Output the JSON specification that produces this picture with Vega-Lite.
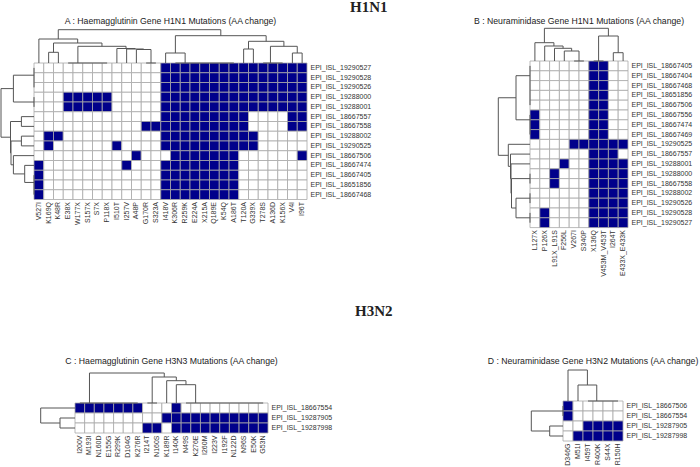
{
"$schema": "https://vega.github.io/schema/vega-lite/v6.json",
"padding": 0,
"config": {"view": {"stroke": null}, "axis": {"labelFont": "Liberation Sans"}, "title": {"font": "Liberation Sans"}},
"datasets": {
"A_cells": [
{"s":"EPI_ISL_19290527","m":"V527I","v":0},{"s":"EPI_ISL_19290527","m":"K169Q","v":0},{"s":"EPI_ISL_19290527","m":"K48R","v":0},{"s":"EPI_ISL_19290527","m":"E38X","v":0},{"s":"EPI_ISL_19290527","m":"W177X","v":0},{"s":"EPI_ISL_19290527","m":"S157X","v":0},{"s":"EPI_ISL_19290527","m":"S7X","v":0},{"s":"EPI_ISL_19290527","m":"P118X","v":0},{"s":"EPI_ISL_19290527","m":"I510T","v":0},{"s":"EPI_ISL_19290527","m":"I257V","v":0},{"s":"EPI_ISL_19290527","m":"A48P","v":0},{"s":"EPI_ISL_19290527","m":"G170R","v":0},{"s":"EPI_ISL_19290527","m":"S323A","v":0},{"s":"EPI_ISL_19290527","m":"I418V","v":1},{"s":"EPI_ISL_19290527","m":"K306R","v":1},{"s":"EPI_ISL_19290527","m":"R259K","v":1},{"s":"EPI_ISL_19290527","m":"E224A","v":1},{"s":"EPI_ISL_19290527","m":"X215A","v":1},{"s":"EPI_ISL_19290527","m":"Q189E","v":1},{"s":"EPI_ISL_19290527","m":"K54Q","v":1},{"s":"EPI_ISL_19290527","m":"A186T","v":1},{"s":"EPI_ISL_19290527","m":"T120A","v":1},{"s":"EPI_ISL_19290527","m":"G339X","v":1},{"s":"EPI_ISL_19290527","m":"T278S","v":1},{"s":"EPI_ISL_19290527","m":"A136D","v":1},{"s":"EPI_ISL_19290527","m":"K156X","v":1},{"s":"EPI_ISL_19290527","m":"V4I","v":1},{"s":"EPI_ISL_19290527","m":"I96T","v":1},
{"s":"EPI_ISL_19290528","m":"V527I","v":0},{"s":"EPI_ISL_19290528","m":"K169Q","v":0},{"s":"EPI_ISL_19290528","m":"K48R","v":0},{"s":"EPI_ISL_19290528","m":"E38X","v":0},{"s":"EPI_ISL_19290528","m":"W177X","v":0},{"s":"EPI_ISL_19290528","m":"S157X","v":0},{"s":"EPI_ISL_19290528","m":"S7X","v":0},{"s":"EPI_ISL_19290528","m":"P118X","v":0},{"s":"EPI_ISL_19290528","m":"I510T","v":0},{"s":"EPI_ISL_19290528","m":"I257V","v":0},{"s":"EPI_ISL_19290528","m":"A48P","v":0},{"s":"EPI_ISL_19290528","m":"G170R","v":0},{"s":"EPI_ISL_19290528","m":"S323A","v":0},{"s":"EPI_ISL_19290528","m":"I418V","v":1},{"s":"EPI_ISL_19290528","m":"K306R","v":1},{"s":"EPI_ISL_19290528","m":"R259K","v":1},{"s":"EPI_ISL_19290528","m":"E224A","v":1},{"s":"EPI_ISL_19290528","m":"X215A","v":1},{"s":"EPI_ISL_19290528","m":"Q189E","v":1},{"s":"EPI_ISL_19290528","m":"K54Q","v":1},{"s":"EPI_ISL_19290528","m":"A186T","v":1},{"s":"EPI_ISL_19290528","m":"T120A","v":1},{"s":"EPI_ISL_19290528","m":"G339X","v":1},{"s":"EPI_ISL_19290528","m":"T278S","v":1},{"s":"EPI_ISL_19290528","m":"A136D","v":1},{"s":"EPI_ISL_19290528","m":"K156X","v":1},{"s":"EPI_ISL_19290528","m":"V4I","v":1},{"s":"EPI_ISL_19290528","m":"I96T","v":1},
{"s":"EPI_ISL_19290526","m":"V527I","v":0},{"s":"EPI_ISL_19290526","m":"K169Q","v":0},{"s":"EPI_ISL_19290526","m":"K48R","v":0},{"s":"EPI_ISL_19290526","m":"E38X","v":0},{"s":"EPI_ISL_19290526","m":"W177X","v":0},{"s":"EPI_ISL_19290526","m":"S157X","v":0},{"s":"EPI_ISL_19290526","m":"S7X","v":0},{"s":"EPI_ISL_19290526","m":"P118X","v":0},{"s":"EPI_ISL_19290526","m":"I510T","v":0},{"s":"EPI_ISL_19290526","m":"I257V","v":0},{"s":"EPI_ISL_19290526","m":"A48P","v":0},{"s":"EPI_ISL_19290526","m":"G170R","v":0},{"s":"EPI_ISL_19290526","m":"S323A","v":0},{"s":"EPI_ISL_19290526","m":"I418V","v":1},{"s":"EPI_ISL_19290526","m":"K306R","v":1},{"s":"EPI_ISL_19290526","m":"R259K","v":1},{"s":"EPI_ISL_19290526","m":"E224A","v":1},{"s":"EPI_ISL_19290526","m":"X215A","v":1},{"s":"EPI_ISL_19290526","m":"Q189E","v":1},{"s":"EPI_ISL_19290526","m":"K54Q","v":1},{"s":"EPI_ISL_19290526","m":"A186T","v":1},{"s":"EPI_ISL_19290526","m":"T120A","v":1},{"s":"EPI_ISL_19290526","m":"G339X","v":1},{"s":"EPI_ISL_19290526","m":"T278S","v":1},{"s":"EPI_ISL_19290526","m":"A136D","v":1},{"s":"EPI_ISL_19290526","m":"K156X","v":1},{"s":"EPI_ISL_19290526","m":"V4I","v":1},{"s":"EPI_ISL_19290526","m":"I96T","v":1},
{"s":"EPI_ISL_19288000","m":"V527I","v":0},{"s":"EPI_ISL_19288000","m":"K169Q","v":0},{"s":"EPI_ISL_19288000","m":"K48R","v":0},{"s":"EPI_ISL_19288000","m":"E38X","v":1},{"s":"EPI_ISL_19288000","m":"W177X","v":1},{"s":"EPI_ISL_19288000","m":"S157X","v":1},{"s":"EPI_ISL_19288000","m":"S7X","v":1},{"s":"EPI_ISL_19288000","m":"P118X","v":1},{"s":"EPI_ISL_19288000","m":"I510T","v":0},{"s":"EPI_ISL_19288000","m":"I257V","v":0},{"s":"EPI_ISL_19288000","m":"A48P","v":0},{"s":"EPI_ISL_19288000","m":"G170R","v":0},{"s":"EPI_ISL_19288000","m":"S323A","v":0},{"s":"EPI_ISL_19288000","m":"I418V","v":1},{"s":"EPI_ISL_19288000","m":"K306R","v":1},{"s":"EPI_ISL_19288000","m":"R259K","v":1},{"s":"EPI_ISL_19288000","m":"E224A","v":1},{"s":"EPI_ISL_19288000","m":"X215A","v":1},{"s":"EPI_ISL_19288000","m":"Q189E","v":1},{"s":"EPI_ISL_19288000","m":"K54Q","v":1},{"s":"EPI_ISL_19288000","m":"A186T","v":1},{"s":"EPI_ISL_19288000","m":"T120A","v":1},{"s":"EPI_ISL_19288000","m":"G339X","v":1},{"s":"EPI_ISL_19288000","m":"T278S","v":1},{"s":"EPI_ISL_19288000","m":"A136D","v":1},{"s":"EPI_ISL_19288000","m":"K156X","v":1},{"s":"EPI_ISL_19288000","m":"V4I","v":1},{"s":"EPI_ISL_19288000","m":"I96T","v":1},
{"s":"EPI_ISL_19288001","m":"V527I","v":0},{"s":"EPI_ISL_19288001","m":"K169Q","v":0},{"s":"EPI_ISL_19288001","m":"K48R","v":0},{"s":"EPI_ISL_19288001","m":"E38X","v":1},{"s":"EPI_ISL_19288001","m":"W177X","v":1},{"s":"EPI_ISL_19288001","m":"S157X","v":1},{"s":"EPI_ISL_19288001","m":"S7X","v":1},{"s":"EPI_ISL_19288001","m":"P118X","v":1},{"s":"EPI_ISL_19288001","m":"I510T","v":0},{"s":"EPI_ISL_19288001","m":"I257V","v":0},{"s":"EPI_ISL_19288001","m":"A48P","v":0},{"s":"EPI_ISL_19288001","m":"G170R","v":0},{"s":"EPI_ISL_19288001","m":"S323A","v":0},{"s":"EPI_ISL_19288001","m":"I418V","v":1},{"s":"EPI_ISL_19288001","m":"K306R","v":1},{"s":"EPI_ISL_19288001","m":"R259K","v":1},{"s":"EPI_ISL_19288001","m":"E224A","v":1},{"s":"EPI_ISL_19288001","m":"X215A","v":1},{"s":"EPI_ISL_19288001","m":"Q189E","v":1},{"s":"EPI_ISL_19288001","m":"K54Q","v":1},{"s":"EPI_ISL_19288001","m":"A186T","v":1},{"s":"EPI_ISL_19288001","m":"T120A","v":1},{"s":"EPI_ISL_19288001","m":"G339X","v":1},{"s":"EPI_ISL_19288001","m":"T278S","v":1},{"s":"EPI_ISL_19288001","m":"A136D","v":1},{"s":"EPI_ISL_19288001","m":"K156X","v":1},{"s":"EPI_ISL_19288001","m":"V4I","v":1},{"s":"EPI_ISL_19288001","m":"I96T","v":1},
{"s":"EPI_ISL_18667557","m":"V527I","v":0},{"s":"EPI_ISL_18667557","m":"K169Q","v":0},{"s":"EPI_ISL_18667557","m":"K48R","v":0},{"s":"EPI_ISL_18667557","m":"E38X","v":0},{"s":"EPI_ISL_18667557","m":"W177X","v":0},{"s":"EPI_ISL_18667557","m":"S157X","v":0},{"s":"EPI_ISL_18667557","m":"S7X","v":0},{"s":"EPI_ISL_18667557","m":"P118X","v":0},{"s":"EPI_ISL_18667557","m":"I510T","v":0},{"s":"EPI_ISL_18667557","m":"I257V","v":0},{"s":"EPI_ISL_18667557","m":"A48P","v":0},{"s":"EPI_ISL_18667557","m":"G170R","v":0},{"s":"EPI_ISL_18667557","m":"S323A","v":0},{"s":"EPI_ISL_18667557","m":"I418V","v":1},{"s":"EPI_ISL_18667557","m":"K306R","v":1},{"s":"EPI_ISL_18667557","m":"R259K","v":1},{"s":"EPI_ISL_18667557","m":"E224A","v":1},{"s":"EPI_ISL_18667557","m":"X215A","v":1},{"s":"EPI_ISL_18667557","m":"Q189E","v":1},{"s":"EPI_ISL_18667557","m":"K54Q","v":1},{"s":"EPI_ISL_18667557","m":"A186T","v":1},{"s":"EPI_ISL_18667557","m":"T120A","v":1},{"s":"EPI_ISL_18667557","m":"G339X","v":0},{"s":"EPI_ISL_18667557","m":"T278S","v":0},{"s":"EPI_ISL_18667557","m":"A136D","v":0},{"s":"EPI_ISL_18667557","m":"K156X","v":0},{"s":"EPI_ISL_18667557","m":"V4I","v":1},{"s":"EPI_ISL_18667557","m":"I96T","v":1},
{"s":"EPI_ISL_18667558","m":"V527I","v":0},{"s":"EPI_ISL_18667558","m":"K169Q","v":0},{"s":"EPI_ISL_18667558","m":"K48R","v":0},{"s":"EPI_ISL_18667558","m":"E38X","v":0},{"s":"EPI_ISL_18667558","m":"W177X","v":0},{"s":"EPI_ISL_18667558","m":"S157X","v":0},{"s":"EPI_ISL_18667558","m":"S7X","v":0},{"s":"EPI_ISL_18667558","m":"P118X","v":0},{"s":"EPI_ISL_18667558","m":"I510T","v":0},{"s":"EPI_ISL_18667558","m":"I257V","v":0},{"s":"EPI_ISL_18667558","m":"A48P","v":0},{"s":"EPI_ISL_18667558","m":"G170R","v":1},{"s":"EPI_ISL_18667558","m":"S323A","v":1},{"s":"EPI_ISL_18667558","m":"I418V","v":1},{"s":"EPI_ISL_18667558","m":"K306R","v":1},{"s":"EPI_ISL_18667558","m":"R259K","v":1},{"s":"EPI_ISL_18667558","m":"E224A","v":1},{"s":"EPI_ISL_18667558","m":"X215A","v":1},{"s":"EPI_ISL_18667558","m":"Q189E","v":1},{"s":"EPI_ISL_18667558","m":"K54Q","v":1},{"s":"EPI_ISL_18667558","m":"A186T","v":1},{"s":"EPI_ISL_18667558","m":"T120A","v":1},{"s":"EPI_ISL_18667558","m":"G339X","v":0},{"s":"EPI_ISL_18667558","m":"T278S","v":0},{"s":"EPI_ISL_18667558","m":"A136D","v":0},{"s":"EPI_ISL_18667558","m":"K156X","v":0},{"s":"EPI_ISL_18667558","m":"V4I","v":1},{"s":"EPI_ISL_18667558","m":"I96T","v":1},
{"s":"EPI_ISL_19288002","m":"V527I","v":0},{"s":"EPI_ISL_19288002","m":"K169Q","v":1},{"s":"EPI_ISL_19288002","m":"K48R","v":1},{"s":"EPI_ISL_19288002","m":"E38X","v":0},{"s":"EPI_ISL_19288002","m":"W177X","v":0},{"s":"EPI_ISL_19288002","m":"S157X","v":0},{"s":"EPI_ISL_19288002","m":"S7X","v":0},{"s":"EPI_ISL_19288002","m":"P118X","v":0},{"s":"EPI_ISL_19288002","m":"I510T","v":0},{"s":"EPI_ISL_19288002","m":"I257V","v":0},{"s":"EPI_ISL_19288002","m":"A48P","v":0},{"s":"EPI_ISL_19288002","m":"G170R","v":0},{"s":"EPI_ISL_19288002","m":"S323A","v":0},{"s":"EPI_ISL_19288002","m":"I418V","v":1},{"s":"EPI_ISL_19288002","m":"K306R","v":1},{"s":"EPI_ISL_19288002","m":"R259K","v":1},{"s":"EPI_ISL_19288002","m":"E224A","v":1},{"s":"EPI_ISL_19288002","m":"X215A","v":1},{"s":"EPI_ISL_19288002","m":"Q189E","v":1},{"s":"EPI_ISL_19288002","m":"K54Q","v":1},{"s":"EPI_ISL_19288002","m":"A186T","v":1},{"s":"EPI_ISL_19288002","m":"T120A","v":1},{"s":"EPI_ISL_19288002","m":"G339X","v":1},{"s":"EPI_ISL_19288002","m":"T278S","v":0},{"s":"EPI_ISL_19288002","m":"A136D","v":0},{"s":"EPI_ISL_19288002","m":"K156X","v":0},{"s":"EPI_ISL_19288002","m":"V4I","v":0},{"s":"EPI_ISL_19288002","m":"I96T","v":0},
{"s":"EPI_ISL_19290525","m":"V527I","v":0},{"s":"EPI_ISL_19290525","m":"K169Q","v":1},{"s":"EPI_ISL_19290525","m":"K48R","v":0},{"s":"EPI_ISL_19290525","m":"E38X","v":0},{"s":"EPI_ISL_19290525","m":"W177X","v":0},{"s":"EPI_ISL_19290525","m":"S157X","v":0},{"s":"EPI_ISL_19290525","m":"S7X","v":0},{"s":"EPI_ISL_19290525","m":"P118X","v":0},{"s":"EPI_ISL_19290525","m":"I510T","v":1},{"s":"EPI_ISL_19290525","m":"I257V","v":0},{"s":"EPI_ISL_19290525","m":"A48P","v":0},{"s":"EPI_ISL_19290525","m":"G170R","v":0},{"s":"EPI_ISL_19290525","m":"S323A","v":0},{"s":"EPI_ISL_19290525","m":"I418V","v":1},{"s":"EPI_ISL_19290525","m":"K306R","v":1},{"s":"EPI_ISL_19290525","m":"R259K","v":1},{"s":"EPI_ISL_19290525","m":"E224A","v":1},{"s":"EPI_ISL_19290525","m":"X215A","v":1},{"s":"EPI_ISL_19290525","m":"Q189E","v":1},{"s":"EPI_ISL_19290525","m":"K54Q","v":1},{"s":"EPI_ISL_19290525","m":"A186T","v":1},{"s":"EPI_ISL_19290525","m":"T120A","v":1},{"s":"EPI_ISL_19290525","m":"G339X","v":1},{"s":"EPI_ISL_19290525","m":"T278S","v":0},{"s":"EPI_ISL_19290525","m":"A136D","v":0},{"s":"EPI_ISL_19290525","m":"K156X","v":0},{"s":"EPI_ISL_19290525","m":"V4I","v":0},{"s":"EPI_ISL_19290525","m":"I96T","v":0},
{"s":"EPI_ISL_18667506","m":"V527I","v":0},{"s":"EPI_ISL_18667506","m":"K169Q","v":0},{"s":"EPI_ISL_18667506","m":"K48R","v":0},{"s":"EPI_ISL_18667506","m":"E38X","v":0},{"s":"EPI_ISL_18667506","m":"W177X","v":0},{"s":"EPI_ISL_18667506","m":"S157X","v":0},{"s":"EPI_ISL_18667506","m":"S7X","v":0},{"s":"EPI_ISL_18667506","m":"P118X","v":0},{"s":"EPI_ISL_18667506","m":"I510T","v":0},{"s":"EPI_ISL_18667506","m":"I257V","v":0},{"s":"EPI_ISL_18667506","m":"A48P","v":1},{"s":"EPI_ISL_18667506","m":"G170R","v":0},{"s":"EPI_ISL_18667506","m":"S323A","v":0},{"s":"EPI_ISL_18667506","m":"I418V","v":0},{"s":"EPI_ISL_18667506","m":"K306R","v":1},{"s":"EPI_ISL_18667506","m":"R259K","v":1},{"s":"EPI_ISL_18667506","m":"E224A","v":1},{"s":"EPI_ISL_18667506","m":"X215A","v":1},{"s":"EPI_ISL_18667506","m":"Q189E","v":1},{"s":"EPI_ISL_18667506","m":"K54Q","v":1},{"s":"EPI_ISL_18667506","m":"A186T","v":1},{"s":"EPI_ISL_18667506","m":"T120A","v":0},{"s":"EPI_ISL_18667506","m":"G339X","v":0},{"s":"EPI_ISL_18667506","m":"T278S","v":0},{"s":"EPI_ISL_18667506","m":"A136D","v":0},{"s":"EPI_ISL_18667506","m":"K156X","v":0},{"s":"EPI_ISL_18667506","m":"V4I","v":0},{"s":"EPI_ISL_18667506","m":"I96T","v":1},
{"s":"EPI_ISL_18667474","m":"V527I","v":1},{"s":"EPI_ISL_18667474","m":"K169Q","v":0},{"s":"EPI_ISL_18667474","m":"K48R","v":0},{"s":"EPI_ISL_18667474","m":"E38X","v":0},{"s":"EPI_ISL_18667474","m":"W177X","v":0},{"s":"EPI_ISL_18667474","m":"S157X","v":0},{"s":"EPI_ISL_18667474","m":"S7X","v":0},{"s":"EPI_ISL_18667474","m":"P118X","v":0},{"s":"EPI_ISL_18667474","m":"I510T","v":0},{"s":"EPI_ISL_18667474","m":"I257V","v":1},{"s":"EPI_ISL_18667474","m":"A48P","v":0},{"s":"EPI_ISL_18667474","m":"G170R","v":0},{"s":"EPI_ISL_18667474","m":"S323A","v":0},{"s":"EPI_ISL_18667474","m":"I418V","v":1},{"s":"EPI_ISL_18667474","m":"K306R","v":1},{"s":"EPI_ISL_18667474","m":"R259K","v":1},{"s":"EPI_ISL_18667474","m":"E224A","v":1},{"s":"EPI_ISL_18667474","m":"X215A","v":1},{"s":"EPI_ISL_18667474","m":"Q189E","v":1},{"s":"EPI_ISL_18667474","m":"K54Q","v":1},{"s":"EPI_ISL_18667474","m":"A186T","v":1},{"s":"EPI_ISL_18667474","m":"T120A","v":0},{"s":"EPI_ISL_18667474","m":"G339X","v":0},{"s":"EPI_ISL_18667474","m":"T278S","v":0},{"s":"EPI_ISL_18667474","m":"A136D","v":0},{"s":"EPI_ISL_18667474","m":"K156X","v":0},{"s":"EPI_ISL_18667474","m":"V4I","v":0},{"s":"EPI_ISL_18667474","m":"I96T","v":0},
{"s":"EPI_ISL_18667405","m":"V527I","v":1},{"s":"EPI_ISL_18667405","m":"K169Q","v":0},{"s":"EPI_ISL_18667405","m":"K48R","v":0},{"s":"EPI_ISL_18667405","m":"E38X","v":0},{"s":"EPI_ISL_18667405","m":"W177X","v":0},{"s":"EPI_ISL_18667405","m":"S157X","v":0},{"s":"EPI_ISL_18667405","m":"S7X","v":0},{"s":"EPI_ISL_18667405","m":"P118X","v":0},{"s":"EPI_ISL_18667405","m":"I510T","v":0},{"s":"EPI_ISL_18667405","m":"I257V","v":0},{"s":"EPI_ISL_18667405","m":"A48P","v":0},{"s":"EPI_ISL_18667405","m":"G170R","v":0},{"s":"EPI_ISL_18667405","m":"S323A","v":0},{"s":"EPI_ISL_18667405","m":"I418V","v":1},{"s":"EPI_ISL_18667405","m":"K306R","v":1},{"s":"EPI_ISL_18667405","m":"R259K","v":1},{"s":"EPI_ISL_18667405","m":"E224A","v":1},{"s":"EPI_ISL_18667405","m":"X215A","v":1},{"s":"EPI_ISL_18667405","m":"Q189E","v":1},{"s":"EPI_ISL_18667405","m":"K54Q","v":1},{"s":"EPI_ISL_18667405","m":"A186T","v":1},{"s":"EPI_ISL_18667405","m":"T120A","v":0},{"s":"EPI_ISL_18667405","m":"G339X","v":0},{"s":"EPI_ISL_18667405","m":"T278S","v":0},{"s":"EPI_ISL_18667405","m":"A136D","v":0},{"s":"EPI_ISL_18667405","m":"K156X","v":0},{"s":"EPI_ISL_18667405","m":"V4I","v":0},{"s":"EPI_ISL_18667405","m":"I96T","v":0},
{"s":"EPI_ISL_18651856","m":"V527I","v":1},{"s":"EPI_ISL_18651856","m":"K169Q","v":0},{"s":"EPI_ISL_18651856","m":"K48R","v":0},{"s":"EPI_ISL_18651856","m":"E38X","v":0},{"s":"EPI_ISL_18651856","m":"W177X","v":0},{"s":"EPI_ISL_18651856","m":"S157X","v":0},{"s":"EPI_ISL_18651856","m":"S7X","v":0},{"s":"EPI_ISL_18651856","m":"P118X","v":0},{"s":"EPI_ISL_18651856","m":"I510T","v":0},{"s":"EPI_ISL_18651856","m":"I257V","v":0},{"s":"EPI_ISL_18651856","m":"A48P","v":0},{"s":"EPI_ISL_18651856","m":"G170R","v":0},{"s":"EPI_ISL_18651856","m":"S323A","v":0},{"s":"EPI_ISL_18651856","m":"I418V","v":1},{"s":"EPI_ISL_18651856","m":"K306R","v":1},{"s":"EPI_ISL_18651856","m":"R259K","v":1},{"s":"EPI_ISL_18651856","m":"E224A","v":1},{"s":"EPI_ISL_18651856","m":"X215A","v":1},{"s":"EPI_ISL_18651856","m":"Q189E","v":1},{"s":"EPI_ISL_18651856","m":"K54Q","v":1},{"s":"EPI_ISL_18651856","m":"A186T","v":1},{"s":"EPI_ISL_18651856","m":"T120A","v":0},{"s":"EPI_ISL_18651856","m":"G339X","v":0},{"s":"EPI_ISL_18651856","m":"T278S","v":0},{"s":"EPI_ISL_18651856","m":"A136D","v":0},{"s":"EPI_ISL_18651856","m":"K156X","v":0},{"s":"EPI_ISL_18651856","m":"V4I","v":0},{"s":"EPI_ISL_18651856","m":"I96T","v":0},
{"s":"EPI_ISL_18667468","m":"V527I","v":1},{"s":"EPI_ISL_18667468","m":"K169Q","v":0},{"s":"EPI_ISL_18667468","m":"K48R","v":0},{"s":"EPI_ISL_18667468","m":"E38X","v":0},{"s":"EPI_ISL_18667468","m":"W177X","v":0},{"s":"EPI_ISL_18667468","m":"S157X","v":0},{"s":"EPI_ISL_18667468","m":"S7X","v":0},{"s":"EPI_ISL_18667468","m":"P118X","v":0},{"s":"EPI_ISL_18667468","m":"I510T","v":0},{"s":"EPI_ISL_18667468","m":"I257V","v":0},{"s":"EPI_ISL_18667468","m":"A48P","v":0},{"s":"EPI_ISL_18667468","m":"G170R","v":0},{"s":"EPI_ISL_18667468","m":"S323A","v":0},{"s":"EPI_ISL_18667468","m":"I418V","v":1},{"s":"EPI_ISL_18667468","m":"K306R","v":1},{"s":"EPI_ISL_18667468","m":"R259K","v":1},{"s":"EPI_ISL_18667468","m":"E224A","v":1},{"s":"EPI_ISL_18667468","m":"X215A","v":1},{"s":"EPI_ISL_18667468","m":"Q189E","v":1},{"s":"EPI_ISL_18667468","m":"K54Q","v":1},{"s":"EPI_ISL_18667468","m":"A186T","v":1},{"s":"EPI_ISL_18667468","m":"T120A","v":0},{"s":"EPI_ISL_18667468","m":"G339X","v":0},{"s":"EPI_ISL_18667468","m":"T278S","v":0},{"s":"EPI_ISL_18667468","m":"A136D","v":0},{"s":"EPI_ISL_18667468","m":"K156X","v":0},{"s":"EPI_ISL_18667468","m":"V4I","v":0},{"s":"EPI_ISL_18667468","m":"I96T","v":0}
],
"A_top": [
{"xl":4,"xr":8,"h":0,"hl":0,"hr":0},{"xl":12,"xr":13,"h":0,"hl":0,"hr":0},{"xl":11,"xr":12.5,"h":13.5,"hl":0,"hr":0},{"xl":10,"xr":11.75,"h":14,"hl":0,"hr":13.5},{"xl":9,"xr":10.875,"h":14.5,"hl":0,"hr":14},{"xl":5,"xr":9.94,"h":16.7,"hl":0,"hr":14.5},{"xl":2,"xr":3,"h":10.7,"hl":0,"hr":0},{"xl":2.5,"xr":7.47,"h":20,"hl":10.7,"hr":16.7},{"xl":1,"xr":4.98,"h":24,"hl":0,"hr":20},
{"xl":15,"xr":21,"h":0,"hl":0,"hr":0},{"xl":14,"xr":16,"h":10,"hl":0,"hr":0},{"xl":22,"xr":23,"h":14,"hl":0,"hr":0},{"xl":24,"xr":26,"h":0,"hl":0,"hr":0},{"xl":27,"xr":28,"h":10,"hl":0,"hr":0},{"xl":24.75,"xr":27.5,"h":16.7,"hl":0,"hr":10},{"xl":22.5,"xr":26.13,"h":21.7,"hl":14,"hr":16.7},{"xl":15,"xr":24.31,"h":27.3,"hl":10,"hr":21.7},{"xl":2.99,"xr":19.66,"h":33.3,"hl":24,"hr":27.3}
],
"A_left": [
{"yl":1,"yr":3,"d":0,"dl":0,"dr":0},{"yl":4,"yr":5,"d":0,"dl":0,"dr":0},{"yl":1.75,"yr":4.5,"d":20.6,"dl":0,"dr":0},{"yl":6,"yr":7,"d":12.6,"dl":0,"dr":0},{"yl":8,"yr":9,"d":12.6,"dl":0,"dr":0},{"yl":12,"yr":14,"d":0,"dl":0,"dr":0},{"yl":11,"yr":12.75,"d":9.3,"dl":0,"dr":0},{"yl":10,"yr":11.875,"d":20.6,"dl":0,"dr":9.3},{"yl":8.5,"yr":10.94,"d":23,"dl":12.6,"dr":20.6},{"yl":6.5,"yr":9.72,"d":23.5,"dl":12.6,"dr":23},{"yl":3.125,"yr":8.11,"d":33,"dl":20.6,"dr":23.5}
],
"B_cells": [
{"s":"EPI_ISL_18667405","m":"L127X","v":0},{"s":"EPI_ISL_18667405","m":"P126X","v":0},{"s":"EPI_ISL_18667405","m":"L91X_L91S","v":0},{"s":"EPI_ISL_18667405","m":"F256L","v":0},{"s":"EPI_ISL_18667405","m":"V267I","v":0},{"s":"EPI_ISL_18667405","m":"S340P","v":0},{"s":"EPI_ISL_18667405","m":"X136Q","v":1},{"s":"EPI_ISL_18667405","m":"V453M_V453T","v":1},{"s":"EPI_ISL_18667405","m":"I264T","v":0},{"s":"EPI_ISL_18667405","m":"E433X_E433K","v":0},
{"s":"EPI_ISL_18667404","m":"L127X","v":0},{"s":"EPI_ISL_18667404","m":"P126X","v":0},{"s":"EPI_ISL_18667404","m":"L91X_L91S","v":0},{"s":"EPI_ISL_18667404","m":"F256L","v":0},{"s":"EPI_ISL_18667404","m":"V267I","v":0},{"s":"EPI_ISL_18667404","m":"S340P","v":0},{"s":"EPI_ISL_18667404","m":"X136Q","v":1},{"s":"EPI_ISL_18667404","m":"V453M_V453T","v":1},{"s":"EPI_ISL_18667404","m":"I264T","v":0},{"s":"EPI_ISL_18667404","m":"E433X_E433K","v":0},
{"s":"EPI_ISL_18667468","m":"L127X","v":0},{"s":"EPI_ISL_18667468","m":"P126X","v":0},{"s":"EPI_ISL_18667468","m":"L91X_L91S","v":0},{"s":"EPI_ISL_18667468","m":"F256L","v":0},{"s":"EPI_ISL_18667468","m":"V267I","v":0},{"s":"EPI_ISL_18667468","m":"S340P","v":0},{"s":"EPI_ISL_18667468","m":"X136Q","v":1},{"s":"EPI_ISL_18667468","m":"V453M_V453T","v":1},{"s":"EPI_ISL_18667468","m":"I264T","v":0},{"s":"EPI_ISL_18667468","m":"E433X_E433K","v":0},
{"s":"EPI_ISL_18651856","m":"L127X","v":0},{"s":"EPI_ISL_18651856","m":"P126X","v":0},{"s":"EPI_ISL_18651856","m":"L91X_L91S","v":0},{"s":"EPI_ISL_18651856","m":"F256L","v":0},{"s":"EPI_ISL_18651856","m":"V267I","v":0},{"s":"EPI_ISL_18651856","m":"S340P","v":0},{"s":"EPI_ISL_18651856","m":"X136Q","v":1},{"s":"EPI_ISL_18651856","m":"V453M_V453T","v":1},{"s":"EPI_ISL_18651856","m":"I264T","v":0},{"s":"EPI_ISL_18651856","m":"E433X_E433K","v":0},
{"s":"EPI_ISL_18667506","m":"L127X","v":0},{"s":"EPI_ISL_18667506","m":"P126X","v":0},{"s":"EPI_ISL_18667506","m":"L91X_L91S","v":0},{"s":"EPI_ISL_18667506","m":"F256L","v":0},{"s":"EPI_ISL_18667506","m":"V267I","v":0},{"s":"EPI_ISL_18667506","m":"S340P","v":0},{"s":"EPI_ISL_18667506","m":"X136Q","v":1},{"s":"EPI_ISL_18667506","m":"V453M_V453T","v":1},{"s":"EPI_ISL_18667506","m":"I264T","v":0},{"s":"EPI_ISL_18667506","m":"E433X_E433K","v":0},
{"s":"EPI_ISL_18667556","m":"L127X","v":1},{"s":"EPI_ISL_18667556","m":"P126X","v":0},{"s":"EPI_ISL_18667556","m":"L91X_L91S","v":0},{"s":"EPI_ISL_18667556","m":"F256L","v":0},{"s":"EPI_ISL_18667556","m":"V267I","v":0},{"s":"EPI_ISL_18667556","m":"S340P","v":0},{"s":"EPI_ISL_18667556","m":"X136Q","v":1},{"s":"EPI_ISL_18667556","m":"V453M_V453T","v":1},{"s":"EPI_ISL_18667556","m":"I264T","v":0},{"s":"EPI_ISL_18667556","m":"E433X_E433K","v":0},
{"s":"EPI_ISL_18667474","m":"L127X","v":1},{"s":"EPI_ISL_18667474","m":"P126X","v":0},{"s":"EPI_ISL_18667474","m":"L91X_L91S","v":0},{"s":"EPI_ISL_18667474","m":"F256L","v":0},{"s":"EPI_ISL_18667474","m":"V267I","v":0},{"s":"EPI_ISL_18667474","m":"S340P","v":0},{"s":"EPI_ISL_18667474","m":"X136Q","v":1},{"s":"EPI_ISL_18667474","m":"V453M_V453T","v":1},{"s":"EPI_ISL_18667474","m":"I264T","v":0},{"s":"EPI_ISL_18667474","m":"E433X_E433K","v":0},
{"s":"EPI_ISL_18667469","m":"L127X","v":1},{"s":"EPI_ISL_18667469","m":"P126X","v":0},{"s":"EPI_ISL_18667469","m":"L91X_L91S","v":0},{"s":"EPI_ISL_18667469","m":"F256L","v":0},{"s":"EPI_ISL_18667469","m":"V267I","v":0},{"s":"EPI_ISL_18667469","m":"S340P","v":0},{"s":"EPI_ISL_18667469","m":"X136Q","v":1},{"s":"EPI_ISL_18667469","m":"V453M_V453T","v":1},{"s":"EPI_ISL_18667469","m":"I264T","v":0},{"s":"EPI_ISL_18667469","m":"E433X_E433K","v":0},
{"s":"EPI_ISL_19290525","m":"L127X","v":0},{"s":"EPI_ISL_19290525","m":"P126X","v":0},{"s":"EPI_ISL_19290525","m":"L91X_L91S","v":0},{"s":"EPI_ISL_19290525","m":"F256L","v":0},{"s":"EPI_ISL_19290525","m":"V267I","v":1},{"s":"EPI_ISL_19290525","m":"S340P","v":1},{"s":"EPI_ISL_19290525","m":"X136Q","v":1},{"s":"EPI_ISL_19290525","m":"V453M_V453T","v":1},{"s":"EPI_ISL_19290525","m":"I264T","v":1},{"s":"EPI_ISL_19290525","m":"E433X_E433K","v":1},
{"s":"EPI_ISL_18667557","m":"L127X","v":0},{"s":"EPI_ISL_18667557","m":"P126X","v":0},{"s":"EPI_ISL_18667557","m":"L91X_L91S","v":0},{"s":"EPI_ISL_18667557","m":"F256L","v":0},{"s":"EPI_ISL_18667557","m":"V267I","v":0},{"s":"EPI_ISL_18667557","m":"S340P","v":0},{"s":"EPI_ISL_18667557","m":"X136Q","v":1},{"s":"EPI_ISL_18667557","m":"V453M_V453T","v":1},{"s":"EPI_ISL_18667557","m":"I264T","v":1},{"s":"EPI_ISL_18667557","m":"E433X_E433K","v":0},
{"s":"EPI_ISL_19288001","m":"L127X","v":0},{"s":"EPI_ISL_19288001","m":"P126X","v":0},{"s":"EPI_ISL_19288001","m":"L91X_L91S","v":0},{"s":"EPI_ISL_19288001","m":"F256L","v":1},{"s":"EPI_ISL_19288001","m":"V267I","v":0},{"s":"EPI_ISL_19288001","m":"S340P","v":0},{"s":"EPI_ISL_19288001","m":"X136Q","v":1},{"s":"EPI_ISL_19288001","m":"V453M_V453T","v":1},{"s":"EPI_ISL_19288001","m":"I264T","v":1},{"s":"EPI_ISL_19288001","m":"E433X_E433K","v":1},
{"s":"EPI_ISL_19288000","m":"L127X","v":0},{"s":"EPI_ISL_19288000","m":"P126X","v":0},{"s":"EPI_ISL_19288000","m":"L91X_L91S","v":1},{"s":"EPI_ISL_19288000","m":"F256L","v":0},{"s":"EPI_ISL_19288000","m":"V267I","v":0},{"s":"EPI_ISL_19288000","m":"S340P","v":0},{"s":"EPI_ISL_19288000","m":"X136Q","v":1},{"s":"EPI_ISL_19288000","m":"V453M_V453T","v":1},{"s":"EPI_ISL_19288000","m":"I264T","v":1},{"s":"EPI_ISL_19288000","m":"E433X_E433K","v":1},
{"s":"EPI_ISL_18667558","m":"L127X","v":0},{"s":"EPI_ISL_18667558","m":"P126X","v":0},{"s":"EPI_ISL_18667558","m":"L91X_L91S","v":1},{"s":"EPI_ISL_18667558","m":"F256L","v":0},{"s":"EPI_ISL_18667558","m":"V267I","v":0},{"s":"EPI_ISL_18667558","m":"S340P","v":0},{"s":"EPI_ISL_18667558","m":"X136Q","v":1},{"s":"EPI_ISL_18667558","m":"V453M_V453T","v":1},{"s":"EPI_ISL_18667558","m":"I264T","v":1},{"s":"EPI_ISL_18667558","m":"E433X_E433K","v":1},
{"s":"EPI_ISL_19288002","m":"L127X","v":0},{"s":"EPI_ISL_19288002","m":"P126X","v":0},{"s":"EPI_ISL_19288002","m":"L91X_L91S","v":0},{"s":"EPI_ISL_19288002","m":"F256L","v":0},{"s":"EPI_ISL_19288002","m":"V267I","v":0},{"s":"EPI_ISL_19288002","m":"S340P","v":0},{"s":"EPI_ISL_19288002","m":"X136Q","v":1},{"s":"EPI_ISL_19288002","m":"V453M_V453T","v":1},{"s":"EPI_ISL_19288002","m":"I264T","v":1},{"s":"EPI_ISL_19288002","m":"E433X_E433K","v":1},
{"s":"EPI_ISL_19290526","m":"L127X","v":0},{"s":"EPI_ISL_19290526","m":"P126X","v":0},{"s":"EPI_ISL_19290526","m":"L91X_L91S","v":0},{"s":"EPI_ISL_19290526","m":"F256L","v":0},{"s":"EPI_ISL_19290526","m":"V267I","v":0},{"s":"EPI_ISL_19290526","m":"S340P","v":0},{"s":"EPI_ISL_19290526","m":"X136Q","v":1},{"s":"EPI_ISL_19290526","m":"V453M_V453T","v":1},{"s":"EPI_ISL_19290526","m":"I264T","v":1},{"s":"EPI_ISL_19290526","m":"E433X_E433K","v":1},
{"s":"EPI_ISL_19290528","m":"L127X","v":0},{"s":"EPI_ISL_19290528","m":"P126X","v":1},{"s":"EPI_ISL_19290528","m":"L91X_L91S","v":0},{"s":"EPI_ISL_19290528","m":"F256L","v":0},{"s":"EPI_ISL_19290528","m":"V267I","v":0},{"s":"EPI_ISL_19290528","m":"S340P","v":0},{"s":"EPI_ISL_19290528","m":"X136Q","v":1},{"s":"EPI_ISL_19290528","m":"V453M_V453T","v":1},{"s":"EPI_ISL_19290528","m":"I264T","v":1},{"s":"EPI_ISL_19290528","m":"E433X_E433K","v":1},
{"s":"EPI_ISL_19290527","m":"L127X","v":0},{"s":"EPI_ISL_19290527","m":"P126X","v":1},{"s":"EPI_ISL_19290527","m":"L91X_L91S","v":0},{"s":"EPI_ISL_19290527","m":"F256L","v":0},{"s":"EPI_ISL_19290527","m":"V267I","v":0},{"s":"EPI_ISL_19290527","m":"S340P","v":0},{"s":"EPI_ISL_19290527","m":"X136Q","v":1},{"s":"EPI_ISL_19290527","m":"V453M_V453T","v":1},{"s":"EPI_ISL_19290527","m":"I264T","v":1},{"s":"EPI_ISL_19290527","m":"E433X_E433K","v":1}
],
"B_top": [
{"xl":5,"xr":6,"h":0,"hl":0,"hr":0},{"xl":4,"xr":5.5,"h":10,"hl":0,"hr":0},{"xl":3,"xr":4.75,"h":12.7,"hl":0,"hr":10},{"xl":2,"xr":3.875,"h":15,"hl":0,"hr":12.7},{"xl":1,"xr":2.94,"h":18.3,"hl":0,"hr":15},{"xl":7,"xr":8,"h":0,"hl":0,"hr":0},{"xl":9,"xr":10,"h":8.3,"hl":0,"hr":0},{"xl":7.5,"xr":9.5,"h":25,"hl":0,"hr":8.3},{"xl":1.97,"xr":8.5,"h":32.7,"hl":18.3,"hr":25}
],
"B_left": [
{"yl":1,"yr":5,"d":0,"dl":0,"dr":0},{"yl":6,"yr":8,"d":0,"dl":0,"dr":0},{"yl":2,"yr":6.5,"d":14,"dl":0,"dr":0},{"yl":12,"yr":13,"d":0,"dl":0,"dr":0},{"yl":14,"yr":15,"d":0,"dl":0,"dr":0},{"yl":16,"yr":17,"d":0,"dl":0,"dr":0},{"yl":14.5,"yr":16.5,"d":14,"dl":0,"dr":0},{"yl":12.5,"yr":15.5,"d":18.5,"dl":0,"dr":14},{"yl":11,"yr":14,"d":19,"dl":0,"dr":18.5},{"yl":10,"yr":12.5,"d":19.5,"dl":0,"dr":19},{"yl":9,"yr":11.25,"d":21.7,"dl":0,"dr":19.5},{"yl":4.25,"yr":10.125,"d":31.7,"dl":14,"dr":21.7}
],
"C_cells": [
{"s":"EPI_ISL_18667554","m":"I200V","v":1},{"s":"EPI_ISL_18667554","m":"M193I","v":1},{"s":"EPI_ISL_18667554","m":"N160D","v":1},{"s":"EPI_ISL_18667554","m":"E155G","v":1},{"s":"EPI_ISL_18667554","m":"R299K","v":1},{"s":"EPI_ISL_18667554","m":"D104G","v":1},{"s":"EPI_ISL_18667554","m":"K276R","v":1},{"s":"EPI_ISL_18667554","m":"I214T","v":0},{"s":"EPI_ISL_18667554","m":"N160S","v":0},{"s":"EPI_ISL_18667554","m":"K189R","v":0},{"s":"EPI_ISL_18667554","m":"I140K","v":1},{"s":"EPI_ISL_18667554","m":"N49S","v":0},{"s":"EPI_ISL_18667554","m":"K276E","v":0},{"s":"EPI_ISL_18667554","m":"I260M","v":0},{"s":"EPI_ISL_18667554","m":"I223V","v":0},{"s":"EPI_ISL_18667554","m":"I192F","v":0},{"s":"EPI_ISL_18667554","m":"N122D","v":0},{"s":"EPI_ISL_18667554","m":"N96S","v":0},{"s":"EPI_ISL_18667554","m":"E50K","v":0},{"s":"EPI_ISL_18667554","m":"G53N","v":0},
{"s":"EPI_ISL_19287905","m":"I200V","v":0},{"s":"EPI_ISL_19287905","m":"M193I","v":0},{"s":"EPI_ISL_19287905","m":"N160D","v":0},{"s":"EPI_ISL_19287905","m":"E155G","v":0},{"s":"EPI_ISL_19287905","m":"R299K","v":0},{"s":"EPI_ISL_19287905","m":"D104G","v":0},{"s":"EPI_ISL_19287905","m":"K276R","v":0},{"s":"EPI_ISL_19287905","m":"I214T","v":0},{"s":"EPI_ISL_19287905","m":"N160S","v":0},{"s":"EPI_ISL_19287905","m":"K189R","v":1},{"s":"EPI_ISL_19287905","m":"I140K","v":1},{"s":"EPI_ISL_19287905","m":"N49S","v":1},{"s":"EPI_ISL_19287905","m":"K276E","v":1},{"s":"EPI_ISL_19287905","m":"I260M","v":1},{"s":"EPI_ISL_19287905","m":"I223V","v":1},{"s":"EPI_ISL_19287905","m":"I192F","v":1},{"s":"EPI_ISL_19287905","m":"N122D","v":1},{"s":"EPI_ISL_19287905","m":"N96S","v":1},{"s":"EPI_ISL_19287905","m":"E50K","v":1},{"s":"EPI_ISL_19287905","m":"G53N","v":1},
{"s":"EPI_ISL_19287998","m":"I200V","v":0},{"s":"EPI_ISL_19287998","m":"M193I","v":0},{"s":"EPI_ISL_19287998","m":"N160D","v":0},{"s":"EPI_ISL_19287998","m":"E155G","v":0},{"s":"EPI_ISL_19287998","m":"R299K","v":0},{"s":"EPI_ISL_19287998","m":"D104G","v":0},{"s":"EPI_ISL_19287998","m":"K276R","v":0},{"s":"EPI_ISL_19287998","m":"I214T","v":1},{"s":"EPI_ISL_19287998","m":"N160S","v":1},{"s":"EPI_ISL_19287998","m":"K189R","v":0},{"s":"EPI_ISL_19287998","m":"I140K","v":1},{"s":"EPI_ISL_19287998","m":"N49S","v":1},{"s":"EPI_ISL_19287998","m":"K276E","v":1},{"s":"EPI_ISL_19287998","m":"I260M","v":1},{"s":"EPI_ISL_19287998","m":"I223V","v":1},{"s":"EPI_ISL_19287998","m":"I192F","v":1},{"s":"EPI_ISL_19287998","m":"N122D","v":1},{"s":"EPI_ISL_19287998","m":"N96S","v":1},{"s":"EPI_ISL_19287998","m":"E50K","v":1},{"s":"EPI_ISL_19287998","m":"G53N","v":1}
],
"C_top": [
{"xl":1,"xr":7,"h":0,"hl":0,"hr":0},{"xl":8,"xr":9,"h":0,"hl":0,"hr":0},{"xl":12,"xr":20,"h":0,"hl":0,"hr":0},{"xl":11,"xr":13,"h":18.3,"hl":0,"hr":0},{"xl":10,"xr":12,"h":22.3,"hl":0,"hr":18.3},{"xl":8.5,"xr":11,"h":26,"hl":0,"hr":22.3},{"xl":2,"xr":9.75,"h":30,"hl":0,"hr":26}
],
"C_left": [
{"yl":2,"yr":3,"d":15,"dl":0,"dr":0},{"yl":1,"yr":2.5,"d":34.3,"dl":0,"dr":15}
],
"D_cells": [
{"s":"EPI_ISL_18667506","m":"D346G","v":1},{"s":"EPI_ISL_18667506","m":"M51I","v":0},{"s":"EPI_ISL_18667506","m":"I459T","v":0},{"s":"EPI_ISL_18667506","m":"R400K","v":0},{"s":"EPI_ISL_18667506","m":"S44X","v":0},{"s":"EPI_ISL_18667506","m":"R150H","v":0},
{"s":"EPI_ISL_18667554","m":"D346G","v":1},{"s":"EPI_ISL_18667554","m":"M51I","v":0},{"s":"EPI_ISL_18667554","m":"I459T","v":0},{"s":"EPI_ISL_18667554","m":"R400K","v":0},{"s":"EPI_ISL_18667554","m":"S44X","v":0},{"s":"EPI_ISL_18667554","m":"R150H","v":0},
{"s":"EPI_ISL_19287905","m":"D346G","v":0},{"s":"EPI_ISL_19287905","m":"M51I","v":0},{"s":"EPI_ISL_19287905","m":"I459T","v":1},{"s":"EPI_ISL_19287905","m":"R400K","v":1},{"s":"EPI_ISL_19287905","m":"S44X","v":1},{"s":"EPI_ISL_19287905","m":"R150H","v":1},
{"s":"EPI_ISL_19287998","m":"D346G","v":0},{"s":"EPI_ISL_19287998","m":"M51I","v":1},{"s":"EPI_ISL_19287998","m":"I459T","v":1},{"s":"EPI_ISL_19287998","m":"R400K","v":1},{"s":"EPI_ISL_19287998","m":"S44X","v":1},{"s":"EPI_ISL_19287998","m":"R150H","v":1}
],
"D_top": [
{"xl":3,"xr":6,"h":0,"hl":0,"hr":0},{"xl":2,"xr":3.875,"h":16,"hl":0,"hr":0},{"xl":1,"xr":2.94,"h":31,"hl":0,"hr":16}
],
"D_left": [
{"yl":1,"yr":2,"d":0,"dl":0,"dr":0},{"yl":3,"yr":4,"d":13.3,"dl":0,"dr":0},{"yl":1.5,"yr":3.5,"d":31.7,"dl":0,"dr":13.3}
]
},
"spacing": 27,
"vconcat": [
{
"title": {"text": "H1N1", "font": "Liberation Serif", "fontSize": 15, "fontWeight": "bold", "color": "#222", "anchor": "start", "dx": 350, "offset": 2},
"bounds": "flush",
"spacing": 189,
"hconcat": [
{
"width": 307, "height": 172.5,
"title": {"text": "A : Haemagglutinin Gene H1N1 Mutations (AA change)", "frame": "group", "anchor": "middle", "dx": 17, "offset": 1, "fontSize": 8.7, "fontWeight": "normal", "color": "#222"},
"layer": [
{"data": {"name": "A_cells"}, "mark": {"type": "rect", "stroke": "#a8a8a8", "strokeWidth": 0.8},
"encoding": {
"x": {"field": "m", "type": "nominal", "scale": {"domain": ["V527I","K169Q","K48R","E38X","W177X","S157X","S7X","P118X","I510T","I257V","A48P","G170R","S323A","I418V","K306R","R259K","E224A","X215A","Q189E","K54Q","A186T","T120A","G339X","T278S","A136D","K156X","V4I","I96T"], "range": [34, 307], "paddingInner": 0, "paddingOuter": 0, "round": false}, "axis": {"orient": "bottom", "title": null, "domain": false, "ticks": false, "labelAngle": 270, "labelPadding": 2, "labelFontSize": 7, "labelColor": "#333", "labelOverlap": false}},
"y": {"field": "s", "type": "nominal", "scale": {"domain": ["EPI_ISL_19290527","EPI_ISL_19290528","EPI_ISL_19290526","EPI_ISL_19288000","EPI_ISL_19288001","EPI_ISL_18667557","EPI_ISL_18667558","EPI_ISL_19288002","EPI_ISL_19290525","EPI_ISL_18667506","EPI_ISL_18667474","EPI_ISL_18667405","EPI_ISL_18651856","EPI_ISL_18667468"], "range": [36, 172.5], "paddingInner": 0, "paddingOuter": 0, "round": false}, "axis": {"orient": "right", "title": null, "domain": false, "ticks": false, "labelPadding": 3, "labelFontSize": 7, "labelColor": "#333", "labelOverlap": false}},
"color": {"field": "v", "type": "nominal", "scale": {"domain": [0, 1], "range": ["#ffffff", "#00008b"]}, "legend": null}
}},
{"data": {"name": "A_top"}, "layer": [
{"mark": {"type": "rule", "color": "#555555", "strokeWidth": 1}, "encoding": {"x": {"field": "xl", "type": "quantitative", "scale": {"domain": [-2.98718, 28.5], "nice": false, "zero": false}, "axis": null}, "x2": {"field": "xr"}, "y": {"field": "h", "type": "quantitative", "scale": {"domain": [-136.5, 36], "nice": false, "zero": false}, "axis": null}}},
{"mark": {"type": "rule", "color": "#555555", "strokeWidth": 1}, "encoding": {"x": {"field": "xl", "type": "quantitative", "scale": {"domain": [-2.98718, 28.5], "nice": false, "zero": false}, "axis": null}, "y": {"field": "h", "type": "quantitative", "scale": {"domain": [-136.5, 36], "nice": false, "zero": false}, "axis": null}, "y2": {"field": "hl"}}},
{"mark": {"type": "rule", "color": "#555555", "strokeWidth": 1}, "encoding": {"x": {"field": "xr", "type": "quantitative", "scale": {"domain": [-2.98718, 28.5], "nice": false, "zero": false}, "axis": null}, "y": {"field": "h", "type": "quantitative", "scale": {"domain": [-136.5, 36], "nice": false, "zero": false}, "axis": null}, "y2": {"field": "hr"}}}
], "resolve": {"scale": {"x": "shared", "y": "shared"}}},
{"data": {"name": "A_left"}, "layer": [
{"mark": {"type": "rule", "color": "#555555", "strokeWidth": 1}, "encoding": {"y": {"field": "yl", "type": "quantitative", "scale": {"domain": [-3.19231, 14.5], "reverse": true, "nice": false, "zero": false}, "axis": null}, "y2": {"field": "yr"}, "x": {"field": "d", "type": "quantitative", "scale": {"domain": [-273, 34], "reverse": true, "nice": false, "zero": false}, "axis": null}}},
{"mark": {"type": "rule", "color": "#555555", "strokeWidth": 1}, "encoding": {"y": {"field": "yl", "type": "quantitative", "scale": {"domain": [-3.19231, 14.5], "reverse": true, "nice": false, "zero": false}, "axis": null}, "x": {"field": "d", "type": "quantitative", "scale": {"domain": [-273, 34], "reverse": true, "nice": false, "zero": false}, "axis": null}, "x2": {"field": "dl"}}},
{"mark": {"type": "rule", "color": "#555555", "strokeWidth": 1}, "encoding": {"y": {"field": "yr", "type": "quantitative", "scale": {"domain": [-3.19231, 14.5], "reverse": true, "nice": false, "zero": false}, "axis": null}, "x": {"field": "d", "type": "quantitative", "scale": {"domain": [-273, 34], "reverse": true, "nice": false, "zero": false}, "axis": null}, "x2": {"field": "dr"}}}
], "resolve": {"scale": {"x": "shared", "y": "shared"}}}
],
"resolve": {"scale": {"x": "independent", "y": "independent"}}
},
{
"width": 132, "height": 200.6,
"title": {"text": "B : Neuraminidase Gene H1N1 Mutations (AA change)", "frame": "group", "anchor": "middle", "dx": 17, "offset": 1, "fontSize": 8.7, "fontWeight": "normal", "color": "#222"},
"layer": [
{"data": {"name": "B_cells"}, "mark": {"type": "rect", "stroke": "#a8a8a8", "strokeWidth": 0.8},
"encoding": {
"x": {"field": "m", "type": "nominal", "scale": {"domain": ["L127X","P126X","L91X_L91S","F256L","V267I","S340P","X136Q","V453M_V453T","I264T","E433X_E433K"], "range": [34, 132], "paddingInner": 0, "paddingOuter": 0, "round": false}, "axis": {"orient": "bottom", "title": null, "domain": false, "ticks": false, "labelAngle": 270, "labelPadding": 2, "labelFontSize": 7, "labelColor": "#333", "labelOverlap": false}},
"y": {"field": "s", "type": "nominal", "scale": {"domain": ["EPI_ISL_18667405","EPI_ISL_18667404","EPI_ISL_18667468","EPI_ISL_18651856","EPI_ISL_18667506","EPI_ISL_18667556","EPI_ISL_18667474","EPI_ISL_18667469","EPI_ISL_19290525","EPI_ISL_18667557","EPI_ISL_19288001","EPI_ISL_19288000","EPI_ISL_18667558","EPI_ISL_19288002","EPI_ISL_19290526","EPI_ISL_19290528","EPI_ISL_19290527"], "range": [34, 200.6], "paddingInner": 0, "paddingOuter": 0, "round": false}, "axis": {"orient": "right", "title": null, "domain": false, "ticks": false, "labelPadding": 3, "labelFontSize": 7, "labelColor": "#333", "labelOverlap": false}},
"color": {"field": "v", "type": "nominal", "scale": {"domain": [0, 1], "range": ["#ffffff", "#00008b"]}, "legend": null}
}},
{"data": {"name": "B_top"}, "layer": [
{"mark": {"type": "rule", "color": "#555555", "strokeWidth": 1}, "encoding": {"x": {"field": "xl", "type": "quantitative", "scale": {"domain": [-2.96939, 10.5], "nice": false, "zero": false}, "axis": null}, "x2": {"field": "xr"}, "y": {"field": "h", "type": "quantitative", "scale": {"domain": [-166.6, 34], "nice": false, "zero": false}, "axis": null}}},
{"mark": {"type": "rule", "color": "#555555", "strokeWidth": 1}, "encoding": {"x": {"field": "xl", "type": "quantitative", "scale": {"domain": [-2.96939, 10.5], "nice": false, "zero": false}, "axis": null}, "y": {"field": "h", "type": "quantitative", "scale": {"domain": [-166.6, 34], "nice": false, "zero": false}, "axis": null}, "y2": {"field": "hl"}}},
{"mark": {"type": "rule", "color": "#555555", "strokeWidth": 1}, "encoding": {"x": {"field": "xr", "type": "quantitative", "scale": {"domain": [-2.96939, 10.5], "nice": false, "zero": false}, "axis": null}, "y": {"field": "h", "type": "quantitative", "scale": {"domain": [-166.6, 34], "nice": false, "zero": false}, "axis": null}, "y2": {"field": "hr"}}}
], "resolve": {"scale": {"x": "shared", "y": "shared"}}},
{"data": {"name": "B_left"}, "layer": [
{"mark": {"type": "rule", "color": "#555555", "strokeWidth": 1}, "encoding": {"y": {"field": "yl", "type": "quantitative", "scale": {"domain": [-2.96939, 17.5], "reverse": true, "nice": false, "zero": false}, "axis": null}, "y2": {"field": "yr"}, "x": {"field": "d", "type": "quantitative", "scale": {"domain": [-98, 34], "reverse": true, "nice": false, "zero": false}, "axis": null}}},
{"mark": {"type": "rule", "color": "#555555", "strokeWidth": 1}, "encoding": {"y": {"field": "yl", "type": "quantitative", "scale": {"domain": [-2.96939, 17.5], "reverse": true, "nice": false, "zero": false}, "axis": null}, "x": {"field": "d", "type": "quantitative", "scale": {"domain": [-98, 34], "reverse": true, "nice": false, "zero": false}, "axis": null}, "x2": {"field": "dl"}}},
{"mark": {"type": "rule", "color": "#555555", "strokeWidth": 1}, "encoding": {"y": {"field": "yr", "type": "quantitative", "scale": {"domain": [-2.96939, 17.5], "reverse": true, "nice": false, "zero": false}, "axis": null}, "x": {"field": "d", "type": "quantitative", "scale": {"domain": [-98, 34], "reverse": true, "nice": false, "zero": false}, "axis": null}, "x2": {"field": "dr"}}}
], "resolve": {"scale": {"x": "shared", "y": "shared"}}}
],
"resolve": {"scale": {"x": "independent", "y": "independent"}}
}
]
},
{
"title": {"text": "H3N2", "font": "Liberation Serif", "fontSize": 15, "fontWeight": "bold", "color": "#222", "anchor": "start", "dx": 355, "offset": 38},
"bounds": "flush",
"spacing": 261,
"hconcat": [
{
"width": 268, "height": 66,
"title": {"text": "C : Haemagglutinin Gene H3N3 Mutations (AA change)", "frame": "group", "anchor": "middle", "dx": 37.5, "offset": 1, "fontSize": 8.7, "fontWeight": "normal", "color": "#222"},
"layer": [
{"data": {"name": "C_cells"}, "mark": {"type": "rect", "stroke": "#a8a8a8", "strokeWidth": 0.8},
"encoding": {
"x": {"field": "m", "type": "nominal", "scale": {"domain": ["I200V","M193I","N160D","E155G","R299K","D104G","K276R","I214T","N160S","K189R","I140K","N49S","K276E","I260M","I223V","I192F","N122D","N96S","E50K","G53N"], "range": [75, 268], "paddingInner": 0, "paddingOuter": 0, "round": false}, "axis": {"orient": "bottom", "title": null, "domain": false, "ticks": false, "labelAngle": 270, "labelPadding": 2, "labelFontSize": 7, "labelColor": "#333", "labelOverlap": false}},
"y": {"field": "s", "type": "nominal", "scale": {"domain": ["EPI_ISL_18667554","EPI_ISL_19287905","EPI_ISL_19287998"], "range": [36, 66], "paddingInner": 0, "paddingOuter": 0, "round": false}, "axis": {"orient": "right", "title": null, "domain": false, "ticks": false, "labelPadding": 3, "labelFontSize": 7, "labelColor": "#333", "labelOverlap": false}},
"color": {"field": "v", "type": "nominal", "scale": {"domain": [0, 1], "range": ["#ffffff", "#00008b"]}, "legend": null}
}},
{"data": {"name": "C_top"}, "layer": [
{"mark": {"type": "rule", "color": "#555555", "strokeWidth": 1}, "encoding": {"x": {"field": "xl", "type": "quantitative", "scale": {"domain": [-7.27202, 20.5], "nice": false, "zero": false}, "axis": null}, "x2": {"field": "xr"}, "y": {"field": "h", "type": "quantitative", "scale": {"domain": [-30, 36], "nice": false, "zero": false}, "axis": null}}},
{"mark": {"type": "rule", "color": "#555555", "strokeWidth": 1}, "encoding": {"x": {"field": "xl", "type": "quantitative", "scale": {"domain": [-7.27202, 20.5], "nice": false, "zero": false}, "axis": null}, "y": {"field": "h", "type": "quantitative", "scale": {"domain": [-30, 36], "nice": false, "zero": false}, "axis": null}, "y2": {"field": "hl"}}},
{"mark": {"type": "rule", "color": "#555555", "strokeWidth": 1}, "encoding": {"x": {"field": "xr", "type": "quantitative", "scale": {"domain": [-7.27202, 20.5], "nice": false, "zero": false}, "axis": null}, "y": {"field": "h", "type": "quantitative", "scale": {"domain": [-30, 36], "nice": false, "zero": false}, "axis": null}, "y2": {"field": "hr"}}}
], "resolve": {"scale": {"x": "shared", "y": "shared"}}},
{"data": {"name": "C_left"}, "layer": [
{"mark": {"type": "rule", "color": "#555555", "strokeWidth": 1}, "encoding": {"y": {"field": "yl", "type": "quantitative", "scale": {"domain": [-3.1, 3.5], "reverse": true, "nice": false, "zero": false}, "axis": null}, "y2": {"field": "yr"}, "x": {"field": "d", "type": "quantitative", "scale": {"domain": [-193, 75], "reverse": true, "nice": false, "zero": false}, "axis": null}}},
{"mark": {"type": "rule", "color": "#555555", "strokeWidth": 1}, "encoding": {"y": {"field": "yl", "type": "quantitative", "scale": {"domain": [-3.1, 3.5], "reverse": true, "nice": false, "zero": false}, "axis": null}, "x": {"field": "d", "type": "quantitative", "scale": {"domain": [-193, 75], "reverse": true, "nice": false, "zero": false}, "axis": null}, "x2": {"field": "dl"}}},
{"mark": {"type": "rule", "color": "#555555", "strokeWidth": 1}, "encoding": {"y": {"field": "yr", "type": "quantitative", "scale": {"domain": [-3.1, 3.5], "reverse": true, "nice": false, "zero": false}, "axis": null}, "x": {"field": "d", "type": "quantitative", "scale": {"domain": [-193, 75], "reverse": true, "nice": false, "zero": false}, "axis": null}, "x2": {"field": "dr"}}}
], "resolve": {"scale": {"x": "shared", "y": "shared"}}}
],
"resolve": {"scale": {"x": "independent", "y": "independent"}}
},
{
"width": 94, "height": 74,
"title": {"text": "D : Neuraminidase Gene H3N2 Mutations (AA change)", "frame": "group", "anchor": "middle", "dx": 17, "offset": 1, "fontSize": 8.7, "fontWeight": "normal", "color": "#222"},
"layer": [
{"data": {"name": "D_cells"}, "mark": {"type": "rect", "stroke": "#a8a8a8", "strokeWidth": 0.8},
"encoding": {
"x": {"field": "m", "type": "nominal", "scale": {"domain": ["D346G","M51I","I459T","R400K","S44X","R150H"], "range": [34, 94], "paddingInner": 0, "paddingOuter": 0, "round": false}, "axis": {"orient": "bottom", "title": null, "domain": false, "ticks": false, "labelAngle": 270, "labelPadding": 2, "labelFontSize": 7, "labelColor": "#333", "labelOverlap": false}},
"y": {"field": "s", "type": "nominal", "scale": {"domain": ["EPI_ISL_18667506","EPI_ISL_18667554","EPI_ISL_19287905","EPI_ISL_19287998"], "range": [34, 74], "paddingInner": 0, "paddingOuter": 0, "round": false}, "axis": {"orient": "right", "title": null, "domain": false, "ticks": false, "labelPadding": 3, "labelFontSize": 7, "labelColor": "#333", "labelOverlap": false}},
"color": {"field": "v", "type": "nominal", "scale": {"domain": [0, 1], "range": ["#ffffff", "#00008b"]}, "legend": null}
}},
{"data": {"name": "D_top"}, "layer": [
{"mark": {"type": "rule", "color": "#555555", "strokeWidth": 1}, "encoding": {"x": {"field": "xl", "type": "quantitative", "scale": {"domain": [-2.9, 6.5], "nice": false, "zero": false}, "axis": null}, "x2": {"field": "xr"}, "y": {"field": "h", "type": "quantitative", "scale": {"domain": [-40, 34], "nice": false, "zero": false}, "axis": null}}},
{"mark": {"type": "rule", "color": "#555555", "strokeWidth": 1}, "encoding": {"x": {"field": "xl", "type": "quantitative", "scale": {"domain": [-2.9, 6.5], "nice": false, "zero": false}, "axis": null}, "y": {"field": "h", "type": "quantitative", "scale": {"domain": [-40, 34], "nice": false, "zero": false}, "axis": null}, "y2": {"field": "hl"}}},
{"mark": {"type": "rule", "color": "#555555", "strokeWidth": 1}, "encoding": {"x": {"field": "xr", "type": "quantitative", "scale": {"domain": [-2.9, 6.5], "nice": false, "zero": false}, "axis": null}, "y": {"field": "h", "type": "quantitative", "scale": {"domain": [-40, 34], "nice": false, "zero": false}, "axis": null}, "y2": {"field": "hr"}}}
], "resolve": {"scale": {"x": "shared", "y": "shared"}}},
{"data": {"name": "D_left"}, "layer": [
{"mark": {"type": "rule", "color": "#555555", "strokeWidth": 1}, "encoding": {"y": {"field": "yl", "type": "quantitative", "scale": {"domain": [-2.9, 4.5], "reverse": true, "nice": false, "zero": false}, "axis": null}, "y2": {"field": "yr"}, "x": {"field": "d", "type": "quantitative", "scale": {"domain": [-60, 34], "reverse": true, "nice": false, "zero": false}, "axis": null}}},
{"mark": {"type": "rule", "color": "#555555", "strokeWidth": 1}, "encoding": {"y": {"field": "yl", "type": "quantitative", "scale": {"domain": [-2.9, 4.5], "reverse": true, "nice": false, "zero": false}, "axis": null}, "x": {"field": "d", "type": "quantitative", "scale": {"domain": [-60, 34], "reverse": true, "nice": false, "zero": false}, "axis": null}, "x2": {"field": "dl"}}},
{"mark": {"type": "rule", "color": "#555555", "strokeWidth": 1}, "encoding": {"y": {"field": "yr", "type": "quantitative", "scale": {"domain": [-2.9, 4.5], "reverse": true, "nice": false, "zero": false}, "axis": null}, "x": {"field": "d", "type": "quantitative", "scale": {"domain": [-60, 34], "reverse": true, "nice": false, "zero": false}, "axis": null}, "x2": {"field": "dr"}}}
], "resolve": {"scale": {"x": "shared", "y": "shared"}}}
],
"resolve": {"scale": {"x": "independent", "y": "independent"}}
}
]
}
]
}
